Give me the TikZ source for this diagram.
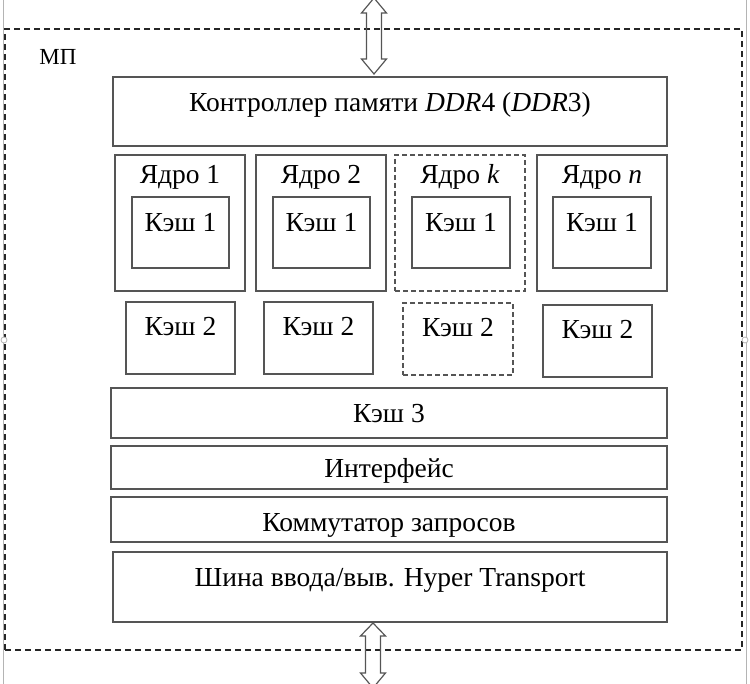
\documentclass[tikz,border=0pt]{standalone}
\usepackage{fontspec}
\setmainfont{Liberation Serif}
\usetikzlibrary{fit,calc}
\definecolor{boxgray}{HTML}{555555}
\definecolor{framegray}{HTML}{B4B4B4}
\tikzset{
  box/.style={draw=boxgray, line width=1.3pt, inner sep=0pt, rectangle},
  dbox/.style={box, dash pattern=on 5pt off 3pt},
  outerbox/.style={draw=black!85, line width=1.2pt, dash pattern=on 6pt off 4pt, inner sep=0pt, rectangle},
  lbl/.style={anchor=base, inner sep=0pt, font=\fontsize{27.5}{32}\selectfont},
  smalllbl/.style={anchor=base, inner sep=0pt, font=\fontsize{23}{27}\selectfont},
  blockarrow/.style={draw=boxgray, line width=1.2pt, line join=miter},
  handle/.style={draw=framegray, fill=white, line width=0.8pt, circle, inner sep=0pt, minimum size=6pt},
  frameline/.style={draw=framegray, line width=0.8pt}
}
\begin{document}
\begin{tikzpicture}[x=1pt,y=-1pt]
\useasboundingbox (0,0) rectangle (750,684);
% image frame lines
\coordinate (fl1) at (3,0); \coordinate (fl2) at (3,684);
\coordinate (fr1) at (746,0); \coordinate (fr2) at (746,684);
\draw[frameline] (fl1) -- (fl2);
\draw[frameline] (fr1) -- (fr2);
% outer dashed box
\node[outerbox, fit={(5,29) (742,650)}] (mp) {};
\node[smalllbl] (mpt) at (58,65) {МП};
% memory controller
\node[box, fit={(113,77) (667,146)}] (ctrl) {};
\node[lbl] (ctrlt) at (390,112) {Контроллер памяти \textit{DDR}4 (\textit{DDR}3)};
% cores
\node[box,  fit={(115,155) (245,291)}] (core1) {};
\node[box,  fit={(256,155) (386,291)}] (core2) {};
\node[dbox, fit={(395,155) (525,291)}] (corek) {};
\node[box,  fit={(537,155) (667,291)}] (coren) {};
\node[lbl] (core1t) at (core1.north |- 0,184) {Ядро 1};
\node[lbl] (core2t) at (core2.north |- 0,184) {Ядро 2};
\node[lbl] (corekt) at (corek.north |- 0,184) {Ядро \textit{k}};
\node[lbl] (corent) at (coren.north |- 0,184) {Ядро \textit{n}};
% cache 1
\node[box, fit={(132,197) (229,268)}] (ca1) {};
\node[box, fit={(273,197) (370,268)}] (ca2) {};
\node[box, fit={(412,197) (510,268)}] (cak) {};
\node[box, fit={(553,197) (651,268)}] (can) {};
\node[lbl] (ca1t) at (ca1.north |- 0,232) {Кэш 1};
\node[lbl] (ca2t) at (ca2.north |- 0,232) {Кэш 1};
\node[lbl] (cakt) at (cak.north |- 0,232) {Кэш 1};
\node[lbl] (cant) at (can.north |- 0,232) {Кэш 1};
% cache 2
\node[box,  fit={(126,302) (235,374)}] (cb1) {};
\node[box,  fit={(264,302) (373,374)}] (cb2) {};
\node[dbox, fit={(403,303) (513,375)}] (cbk) {};
\node[box,  fit={(543,305) (652,377)}] (cbn) {};
\node[lbl] (cb1t) at (cb1.north |- 0,336) {Кэш 2};
\node[lbl] (cb2t) at (cb2.north |- 0,336) {Кэш 2};
\node[lbl] (cbkt) at (cbk.north |- 0,337) {Кэш 2};
\node[lbl] (cbnt) at (cbn.north |- 0,339) {Кэш 2};
% lower blocks
\node[box, fit={(111,388) (667,438)}] (c3) {};
\node[lbl] (c3t) at (c3.north |- 0,423) {Кэш 3};
\node[box, fit={(111,446) (667,489)}] (intf) {};
\node[lbl] (intft) at (intf.north |- 0,478) {Интерфейс};
\node[box, fit={(111,497) (667,542)}] (comm) {};
\node[lbl] (commt) at (comm.north |- 0,531) {Коммутатор запросов};
\node[box, fit={(113,552) (667,622)}] (bus) {};
\node[lbl] (bust) at (bus.north |- 0,586) {Шина ввода/выв. Hyper Transport};
% block arrows
\draw[blockarrow] (374,-2) -- (386.5,13) -- (381.5,13) -- (381.5,59) -- (386.5,59) -- (374,74)
  -- (361.5,59) -- (366.5,59) -- (366.5,13) -- (361.5,13) -- cycle;
\draw[blockarrow] (373,623) -- (385.5,636) -- (380.5,636) -- (380.5,673) -- (385.5,673) -- (373,688)
  -- (360.5,673) -- (365.5,673) -- (365.5,636) -- (360.5,636) -- cycle;
% selection handles
\node[handle] (hl) at (4,340) {};
\node[handle] (hr) at (745,340) {};
\end{tikzpicture}
\end{document}
